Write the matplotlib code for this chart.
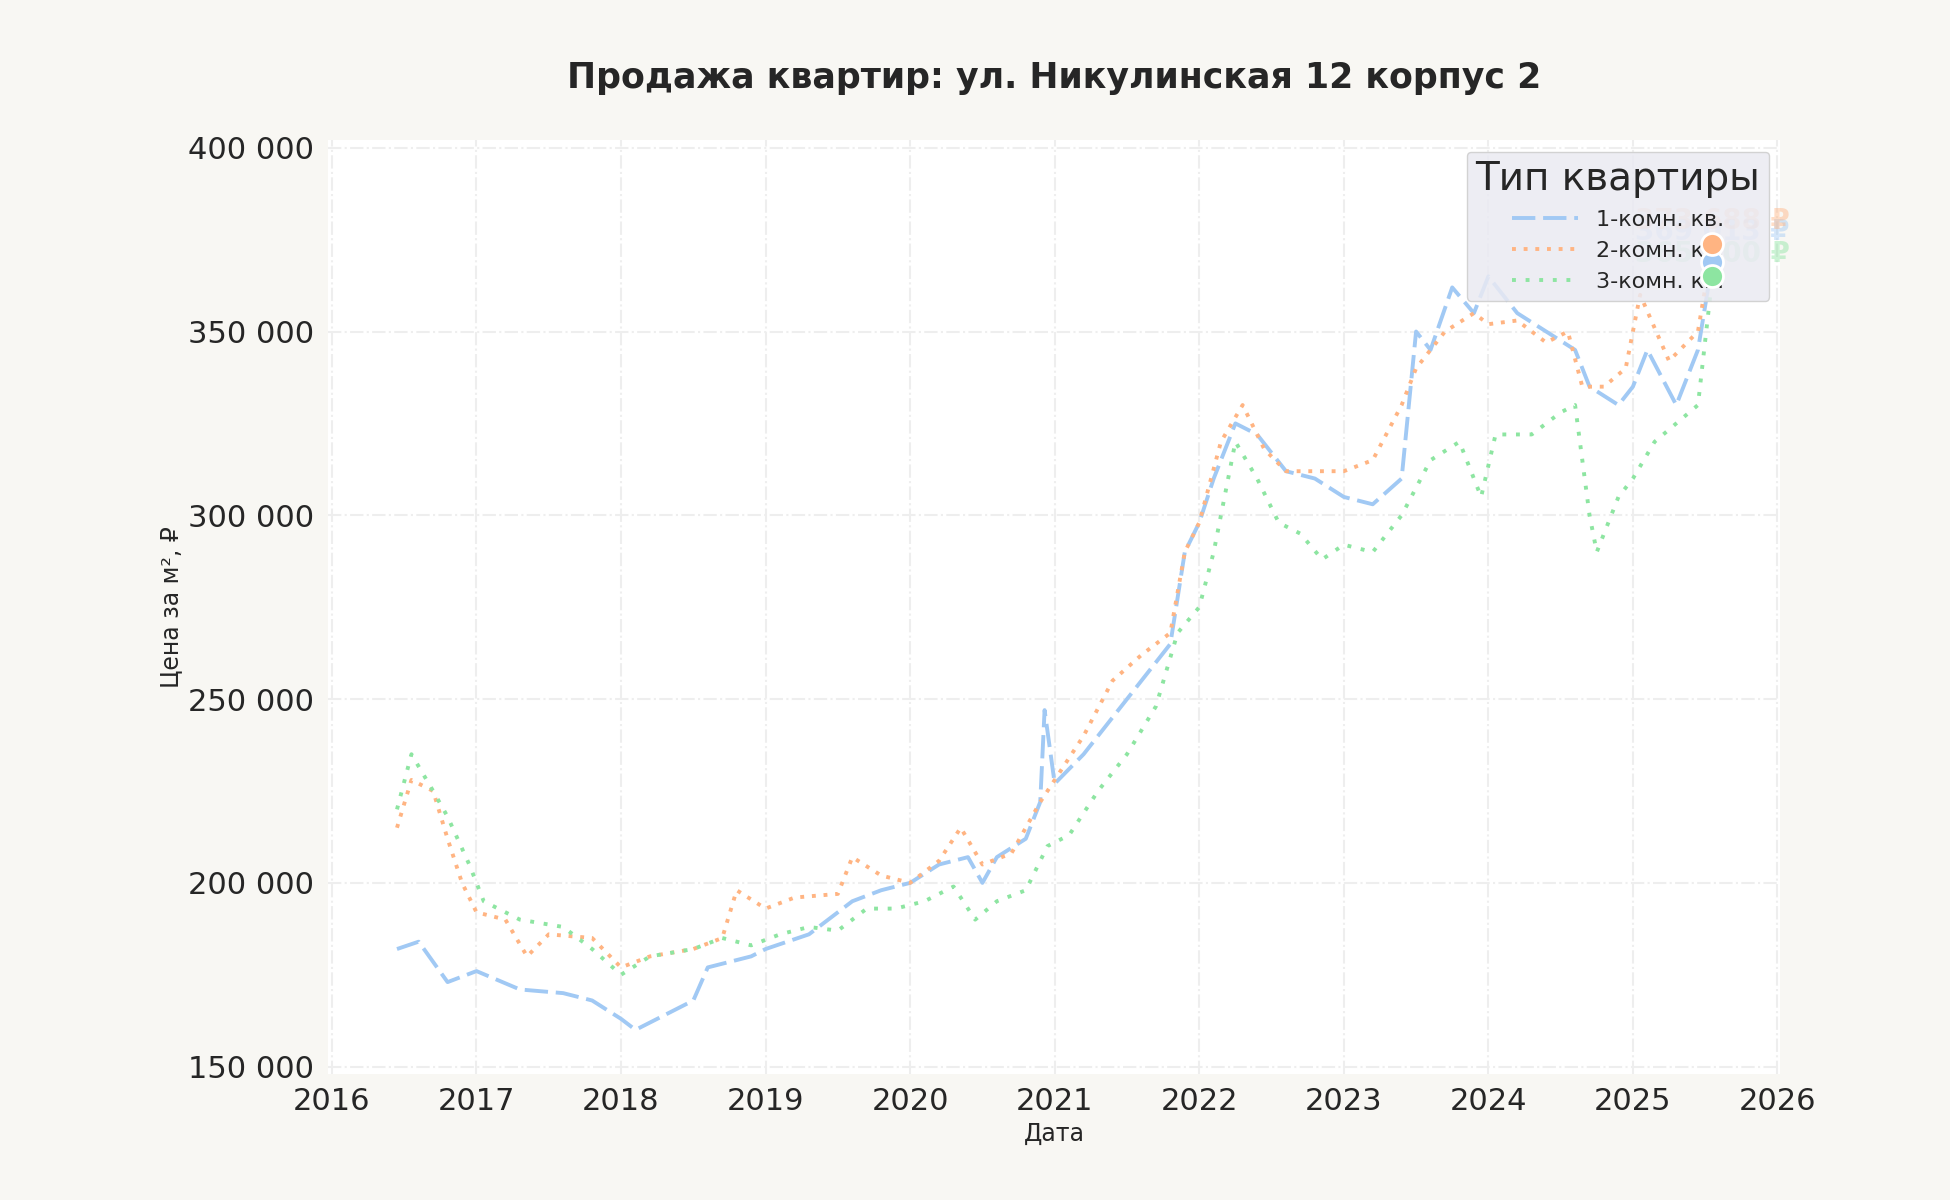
import matplotlib.pyplot as plt
import seaborn as sns
from matplotlib.ticker import FuncFormatter, MultipleLocator

sns.set_theme(style="whitegrid", palette="pastel")
plt.rcParams['font.family'] = ['DejaVu Sans']

# 1-room
t1 = [2016.45, 2016.6, 2016.8, 2017.0, 2017.3, 2017.6, 2017.8, 2018.0, 2018.1, 2018.3, 2018.5, 2018.6,
      2018.9, 2019.0, 2019.3, 2019.6, 2019.8, 2020.0, 2020.2, 2020.4, 2020.5, 2020.6, 2020.8, 2020.9,
      2020.93, 2021.0, 2021.2, 2021.4, 2021.6, 2021.8, 2021.9, 2022.0, 2022.1, 2022.25, 2022.4, 2022.6,
      2022.8, 2023.0, 2023.2, 2023.4, 2023.5, 2023.6, 2023.75, 2023.9, 2024.0, 2024.2, 2024.4, 2024.6,
      2024.7, 2024.9, 2025.0, 2025.1, 2025.3, 2025.45, 2025.55]
p1 = [182, 184, 173, 176, 171, 170, 168, 163, 160, 164, 168, 177,
      180, 182, 186, 195, 198, 200, 205, 207, 200, 207, 212, 222,
      247, 227, 235, 245, 255, 265, 290, 298, 310, 325, 322, 312,
      310, 305, 303, 310, 350, 345, 362, 355, 365, 355, 350, 345,
      335, 330, 335, 345, 330, 345, 369.013]

# 2-room
t2 = [2016.45, 2016.55, 2016.7, 2016.8, 2016.9, 2017.0, 2017.2, 2017.35, 2017.5, 2017.8, 2018.0, 2018.2,
      2018.5, 2018.7, 2018.8, 2019.0, 2019.2, 2019.5, 2019.6, 2019.8, 2020.0, 2020.2, 2020.35, 2020.5,
      2020.7, 2020.9, 2021.0, 2021.2, 2021.4, 2021.6, 2021.8, 2021.9, 2022.0, 2022.15, 2022.3, 2022.45,
      2022.6, 2022.8, 2023.0, 2023.2, 2023.4, 2023.5, 2023.7, 2023.9, 2024.0, 2024.2, 2024.4, 2024.55,
      2024.65, 2024.8, 2024.95, 2025.05, 2025.25, 2025.45, 2025.55]
p2 = [215, 228, 225, 212, 200, 192, 190, 180, 186, 185, 177, 180,
      182, 185, 198, 193, 196, 197, 207, 202, 200, 206, 215, 205,
      208, 222, 228, 240, 255, 262, 268, 290, 298, 320, 330, 318,
      312, 312, 312, 315, 330, 340, 350, 355, 352, 353, 347, 350,
      335, 335, 340, 360, 342, 350, 373.688]

# 3-room
t3 = [2016.45, 2016.55, 2016.7, 2016.8, 2016.95, 2017.05, 2017.3, 2017.6, 2017.8, 2018.0, 2018.2, 2018.5,
      2018.7, 2018.9, 2019.1, 2019.3, 2019.5, 2019.7, 2019.9, 2020.1, 2020.3, 2020.45, 2020.6, 2020.8,
      2020.95, 2021.1, 2021.3, 2021.5, 2021.7, 2021.85, 2022.0, 2022.1, 2022.25, 2022.4, 2022.55, 2022.7,
      2022.85, 2023.0, 2023.2, 2023.4, 2023.6, 2023.8, 2023.95, 2024.05, 2024.3, 2024.5, 2024.6, 2024.7,
      2024.75, 2024.9, 2025.0, 2025.15, 2025.3, 2025.45, 2025.55]
p3 = [220, 235, 225, 218, 205, 195, 190, 188, 182, 175, 180, 182,
      185, 183, 186, 188, 187, 193, 193, 195, 199, 190, 195, 198,
      210, 213, 225, 235, 248, 268, 275, 290, 320, 310, 298, 295,
      288, 292, 290, 300, 315, 320, 305, 322, 322, 328, 330, 300,
      290, 305, 310, 320, 325, 330, 365.0]

series = [("1-комн. кв.", t1, p1, (0, (6, 2)), "#a1c9f4", 8000),
          ("2-комн. кв.", t2, p2, (0, (1, 2)), "#ffb482", 6500),
          ("3-комн. кв.", t3, p3, (0, (1, 2.5)), "#8de5a1", 6000)]

fig = plt.figure(figsize=(19.5, 12), dpi=100, facecolor="#f8f7f3")
ax = fig.add_axes([0.168, 0.105, 0.745, 0.778])
ax.set_facecolor("white")

for name, t, p, ls, c, off in series:
    y = [v * 1000 for v in p]
    ax.plot(t, y, linestyle=ls, color=c, linewidth=2.8, label=name)
    ax.scatter([t[-1]], [y[-1]], s=250, color=c, edgecolor="white", linewidth=2, zorder=4)
    ax.text(t[-1], y[-1] + off, f"{round(y[-1]):,} ₽".replace(",", " "),
            color=c, fontsize=20, fontweight="bold", alpha=0.45, ha="center", va="center", zorder=3)

ax.set_xlim(2015.97, 2026.02)
ax.set_ylim(148000, 402000)
ax.xaxis.set_major_locator(MultipleLocator(1))
ax.yaxis.set_major_locator(MultipleLocator(50000))
ax.xaxis.set_major_formatter(FuncFormatter(lambda v, _: f"{int(round(v))}"))
ax.yaxis.set_major_formatter(FuncFormatter(lambda v, _: f"{int(v):,}".replace(",", " ")))
ax.tick_params(labelsize=22)
ax.grid(color="#eeeeee", linestyle="-.", linewidth=1.5)
for s in ax.spines.values():
    s.set_visible(False)

ax.set_title("Продажа квартир: ул. Никулинская 12 корпус 2", fontsize=25, fontweight="bold", pad=38)
ax.set_xlabel("Дата", fontsize=17)
ax.set_ylabel("Цена за м², ₽", fontsize=17)

leg = ax.legend(title="Тип квартиры", loc="upper right", fontsize=16, title_fontsize=28,
                facecolor="#eaeaf2", framealpha=0.85, handlelength=3)
leg.set_zorder(3.5)

fig.savefig("out.png", facecolor=fig.get_facecolor())
